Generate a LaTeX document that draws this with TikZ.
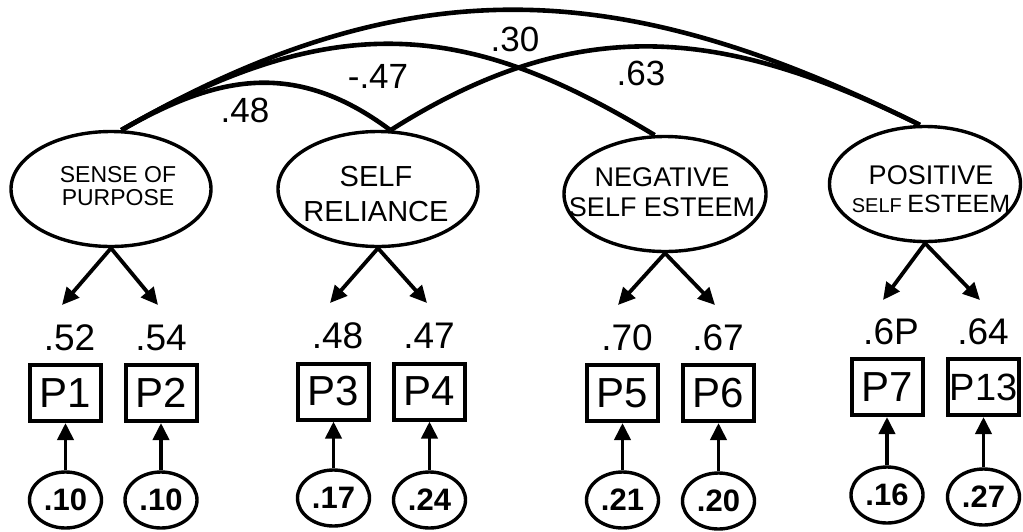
\documentclass[tikz,border=0pt]{standalone}
\usepackage{fontspec}
\setmainfont{Liberation Sans}
\usetikzlibrary{shapes.geometric,arrows.meta}
\begin{document}
\begin{tikzpicture}[x=1pt,y=-1pt,
  latent/.style={draw,ellipse,line width=3.4pt,minimum height=115pt,inner sep=0pt},
  lattext/.style={inner sep=0pt,align=center},
  indicator/.style={draw,rectangle,line width=4pt,minimum width=71pt,minimum height=56pt,inner sep=0pt,font=\fontsize{42}{42}\selectfont},
  errvar/.style={draw,ellipse,line width=3.4pt,minimum width=72pt,minimum height=56pt,inner sep=0pt,font=\fontsize{31}{31}\selectfont\bfseries},
  loading/.style={inner sep=0pt,font=\fontsize{37}{37}\selectfont},
  covlab/.style={inner sep=0pt,font=\fontsize{35}{35}\selectfont},
  cov/.style={line width=4.6pt},
  path/.style={line width=3.8pt,-{Triangle[length=17pt,width=16pt]}}
]
\useasboundingbox (0,0) rectangle (1023,531);

% latent factors
\node[latent,minimum width=200pt] (sp)  at (111,189) {};
\node[latent,minimum width=200pt] (sr)  at (378,189) {};
\node[latent,minimum width=202pt] (nse) at (665,194) {};
\node[latent,minimum width=191pt] (pse) at (925,184) {};

\node[lattext,font=\fontsize{23}{23}\selectfont] at (118,186) {SENSE OF\\PURPOSE};
\node[lattext,font=\fontsize{29}{35}\selectfont] at (376,194.5) {SELF\\RELIANCE};
\node[lattext,font=\fontsize{27}{30}\selectfont] at (662,192) {NEGATIVE\\SELF ESTEEM};
\node[lattext,font=\fontsize{27}{28}\selectfont] at (931,189)
  {POSITIVE\\{\fontsize{20}{20}\selectfont SELF }{\fontsize{25}{25}\selectfont ESTEEM}};

% factor covariances
\draw[cov] (sp.80) .. controls (414,-38) and (626,-21) .. (pse.95);
\draw[cov] (sp.80) .. controls (340,4) and (473,25) .. (nse.100);
\draw[cov] (sp.80) .. controls (210,80) and (290,55) .. (sr.78);
\draw[cov] (sr.78) .. controls (583,8) and (730,31) .. (pse.95);

\node[covlab] (c1) at (245,110) {.48};
\node[covlab] (c2) at (378,76) {-.47};
\node[covlab] (c3) at (515,39) {.30};
\node[covlab] (c4) at (641,73) {.63};

% observed indicators
\node[indicator] (p1)  at (65.5,393)  {P1};
\node[indicator] (p2)  at (161,393)   {P2};
\node[indicator] (p3)  at (333.5,391.5) {P3};
\node[indicator] (p4)  at (429.5,391.5) {P4};
\node[indicator] (p5)  at (622.5,393) {P5};
\node[indicator] (p6)  at (718.5,393) {P6};
\node[indicator] (p7)  at (887,387)   {P7};
\node[indicator,font=\fontsize{38}{38}\selectfont] (p13) at (983.5,387) {P13};

% loadings
\node[loading] (l1) at (69.5,338) {.52};
\node[loading] (l2) at (161,338)  {.54};
\node[loading] (l3) at (337.5,336) {.48};
\node[loading] (l4) at (429,336)  {.47};
\node[loading] (l5) at (627,338)  {.70};
\node[loading] (l6) at (718,338)  {.67};
\node[loading] (l7) at (891,332)  {.6P};
\node[loading] (l8) at (983,332)  {.64};

% loading arrow ends
\coordinate (t1) at (62,305);
\coordinate (t2) at (158,305);
\coordinate (t3) at (330,303);
\coordinate (t4) at (427,303);
\coordinate (t5) at (618,305);
\coordinate (t6) at (715,305);
\coordinate (t7) at (883,300);
\coordinate (t8) at (980,300);

\draw[path] (sp.south) -- (t1);
\draw[path] (sp.south) -- (t2);
\draw[path] (sr.south) -- (t3);
\draw[path] (sr.south) -- (t4);
\draw[path] (nse.south) -- (t5);
\draw[path] (nse.south) -- (t6);
\draw[path] (pse.south) -- (t7);
\draw[path] (pse.south) -- (t8);

% error variances
\node[errvar] (e1) at (65.5,500)  {.10};
\node[errvar] (e2) at (161,500)   {.10};
\node[errvar] (e3) at (333.5,498) {.17};
\node[errvar] (e4) at (429.5,500) {.24};
\node[errvar] (e5) at (622.5,500) {.21};
\node[errvar] (e6) at (718.5,501) {.20};
\node[errvar] (e7) at (887,495)   {.16};
\node[errvar] (e8) at (983.5,497) {.27};

\draw[path] (e1.north) -- (p1.south);
\draw[path] (e2.north) -- (p2.south);
\draw[path] (e3.north) -- (p3.south);
\draw[path] (e4.north) -- (p4.south);
\draw[path] (e5.north) -- (p5.south);
\draw[path] (e6.north) -- (p6.south);
\draw[path] (e7.north) -- (p7.south);
\draw[path] (e8.north) -- (p13.south);
\end{tikzpicture}
\end{document}
